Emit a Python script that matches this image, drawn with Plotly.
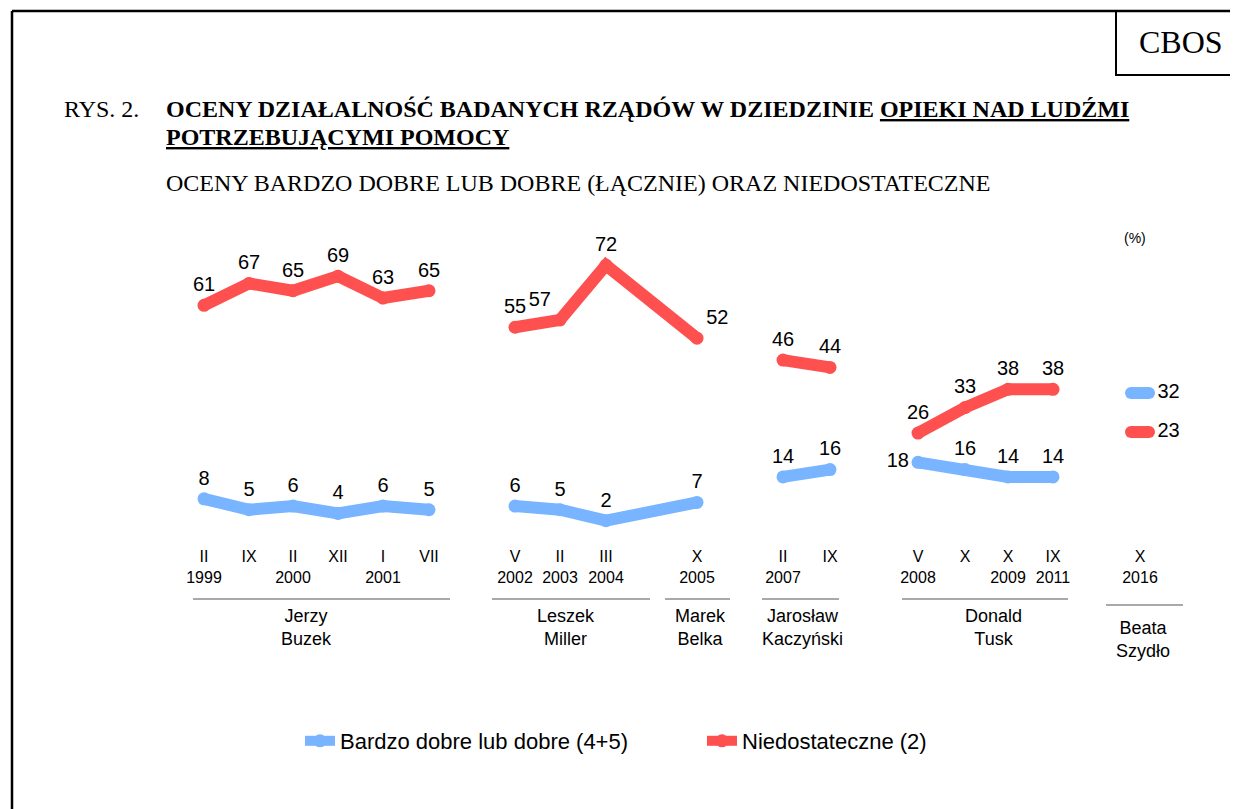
import plotly.graph_objects as go

# ---------------- data ----------------
periods = ["II<br>1999", "IX", "II<br>2000", "XII", "I<br>2001", "VII",
           "V<br>2002", "II<br>2003", "III<br>2004", "X<br>2005",
           "II<br>2007", "IX",
           "V<br>2008", "X", "X<br>2009", "IX<br>2011",
           "X<br>2016"]
good = [8, 5, 6, 4, 6, 5, 6, 5, 2, 7, 14, 16, 18, 16, 14, 14, 32]
bad = [61, 67, 65, 69, 63, 65, 55, 57, 72, 52, 46, 44, 26, 33, 38, 38, 23]
segment = [0] * 6 + [1] * 4 + [2] * 2 + [3] * 4 + [4]
governments = ["Jerzy<br>Buzek", "Leszek<br>Miller", "Marek<br>Belka",
               "Jarosław<br>Kaczyński", "Donald<br>Tusk", "Beata<br>Szydło"]
series_names = ["Bardzo dobre lub dobre (4+5)", "Niedostateczne (2)"]

# ---------------- layout helpers (positions, not data) ----------------
W, H = 1238, 809
OFF = 8          # page body margin offset
x_pos = [204, 249, 293, 338, 383, 429, 515, 560, 606, 697, 783, 830,
         918, 965, 1008, 1053, 1140]
# (line x0, line x1, line y, name x, name y) in screen px
gov_spans = [(193, 450, 599, 306, 628), (492, 650, 599, 566, 628),
             (665, 730, 599, 700, 628), (762, 839, 599, 802, 628),
             (902, 1068, 599, 993, 628), (1106, 1183, 605, 1143, 639)]
BS = 545               # plot-area bottom (screen px)
TS = OFF               # plot-area top (screen px)
Y0, S = 528, 3.65      # value 0 screen px, px per unit (main scale)
Y0b, S2 = 531.7, 4.333  # inset scale for last survey

BLUE = "#78b4ff"
RED = "#ff5050"
SANS = "Arial, Liberation Sans, sans-serif"
SERIF = "Times New Roman, Liberation Serif, serif"


def py(p):
    return (BS - p) / (BS - TS)


def pxp(x):
    return (x - OFF) / W


def build(values, seg_ids, pos_override):
    xs, ys, txt, tpos = [], [], [], []
    prev = None
    for i, (x, v, s) in enumerate(zip(x_pos, values, seg_ids)):
        if s == 4:
            continue
        if prev is not None and s != prev:
            xs.append(None); ys.append(None); txt.append(""); tpos.append("top center")
        xs.append(x); ys.append(v); txt.append(str(v))
        tpos.append(pos_override.get(i, "top center"))
        prev = s
    return xs, ys, txt, tpos


fig = go.Figure()

bad_pos = {7: "top left", 9: "top right"}
good_pos = {12: "middle left"}

for vals, color, name, over in [(good, BLUE, series_names[0], good_pos),
                                (bad, RED, series_names[1], bad_pos)]:
    xs, ys, txt, tpos = build(vals, segment, over)
    fig.add_trace(go.Scatter(
        x=xs, y=ys, mode="lines+markers+text", name=name,
        line=dict(color=color, width=12),
        marker=dict(color=color, size=13),
        text=txt, textposition=tpos,
        textfont=dict(family=SANS, size=20, color="black"),
        connectgaps=False, hoverinfo="skip"))

# last survey (separate inset scale), drawn as short pills
last = segment.index(4)
for vals, color in [(good, BLUE), (bad, RED)]:
    fig.add_trace(go.Scatter(
        x=[x_pos[last] - 9, x_pos[last] + 9], y=[vals[last], vals[last]],
        yaxis="y2", mode="lines+markers+text", showlegend=False,
        line=dict(color=color, width=12), marker=dict(color=color, size=12),
        text=["", str(vals[last])], textposition="middle right",
        textfont=dict(family=SANS, size=20, color="black"), hoverinfo="skip"))

shapes = [
    dict(type="line", xref="paper", yref="paper", x0=pxp(12), x1=pxp(12),
         y0=py(11), y1=py(840), line=dict(color="black", width=2.5)),
    dict(type="line", xref="paper", yref="paper", x0=pxp(12), x1=pxp(1270),
         y0=py(11), y1=py(11), line=dict(color="black", width=2.5)),
    dict(type="rect", xref="paper", yref="paper", x0=pxp(1116), x1=pxp(1270),
         y0=py(11), y1=py(75), line=dict(color="black", width=2)),
]
annotations = [
    dict(text="CBOS", x=pxp(1181), y=py(42), font=dict(family=SERIF, size=32)),
    dict(text="RYS. 2.", x=pxp(62), y=py(109), xanchor="left",
         font=dict(family=SERIF, size=24)),
    dict(text="<b>OCENY DZIAŁALNOŚĆ BADANYCH RZĄDÓW W DZIEDZINIE <u>OPIEKI NAD LUDŹMI</u></b>",
         x=pxp(164), y=py(109), xanchor="left", font=dict(family=SERIF, size=24)),
    dict(text="<b><u>POTRZEBUJĄCYMI POMOCY</u></b>",
         x=pxp(164), y=py(137), xanchor="left", font=dict(family=SERIF, size=24)),
    dict(text="OCENY BARDZO DOBRE LUB DOBRE (ŁĄCZNIE) ORAZ NIEDOSTATECZNE",
         x=pxp(164), y=py(183), xanchor="left", font=dict(family=SERIF, size=24)),
    dict(text="(%)", x=pxp(1135), y=py(238), font=dict(family=SANS, size=14)),
]
for name, (x0, x1, ly, nx, ny) in zip(governments, gov_spans):
    shapes.append(dict(type="line", xref="paper", yref="paper", x0=pxp(x0), x1=pxp(x1),
                       y0=py(ly), y1=py(ly), line=dict(color="#555555", width=1.2)))
    annotations.append(dict(text=name, x=pxp(nx), y=py(ny),
                            font=dict(family=SANS, size=18)))
for a in annotations:
    a.update(xref="paper", yref="paper", showarrow=False, yanchor="middle")
    a.setdefault("xanchor", "center")
    a["font"].setdefault("color", "black")

fig.update_layout(
    width=W, height=H,
    margin=dict(l=0, r=0, t=TS - OFF, b=H - (BS - OFF)),
    paper_bgcolor="white", plot_bgcolor="white",
    xaxis=dict(range=[OFF, W + OFF], tickmode="array", tickvals=x_pos, ticktext=periods,
               showgrid=False, zeroline=False, showline=False, ticks="",
               tickfont=dict(family=SANS, size=16, color="black"), fixedrange=True),
    yaxis=dict(range=[(Y0 - BS) / S, (Y0 - TS) / S], visible=False, fixedrange=True),
    yaxis2=dict(range=[(Y0b - BS) / S2, (Y0b - TS) / S2], visible=False,
                overlaying="y", fixedrange=True),
    shapes=shapes, annotations=annotations,
    showlegend=True,
    legend=dict(orientation="h", x=pxp(300), y=py(741), xanchor="left", yanchor="middle",
                font=dict(family=SANS, size=22, color="black"),
                entrywidth=357, entrywidthmode="pixels", bgcolor="rgba(0,0,0,0)"),
)

fig.write_html("out.html")
